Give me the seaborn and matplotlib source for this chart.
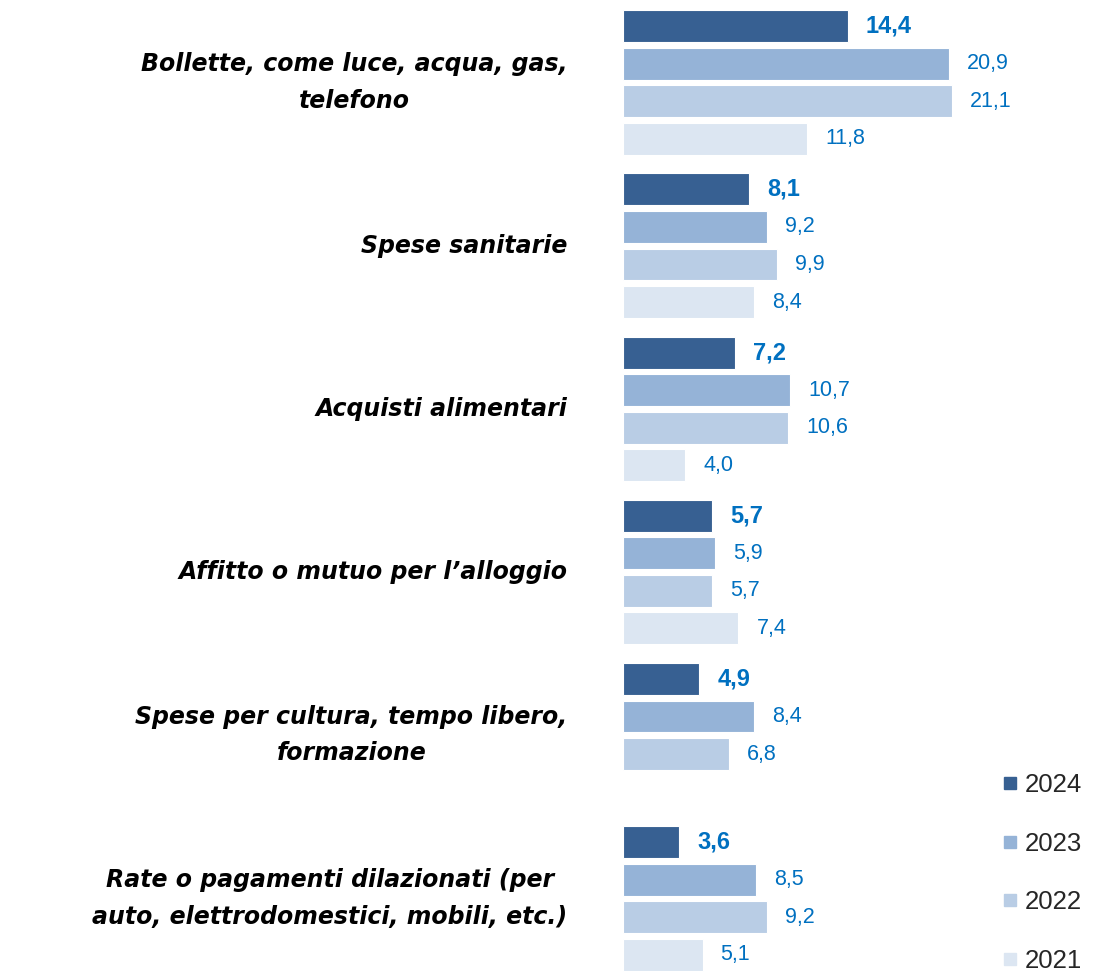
import numpy as np
import pandas as pd
import matplotlib
matplotlib.use("Agg")
import matplotlib.pyplot as plt
from matplotlib.lines import Line2D
import seaborn as sns

# data
categories = [
    "Bollette, come luce, acqua, gas,\ntelefono",
    "Spese sanitarie",
    "Acquisti alimentari",
    "Affitto o mutuo per l\u2019alloggio",
    "Spese per cultura, tempo libero,\nformazione",
    "Rate o pagamenti dilazionati (per\nauto, elettrodomestici, mobili, etc.)",
]
years = ["2024", "2023", "2022", "2021"]
v2024 = [14.4, 8.1, 7.2, 5.7, 4.9, 3.6]
v2023 = [20.9, 9.2, 10.7, 5.9, 8.4, 8.5]
v2022 = [21.1, 9.9, 10.6, 5.7, 6.8, 9.2]
v2021 = [11.8, 8.4, 4.0, 7.4, np.nan, 5.1]

colors = ["#376092", "#95B3D7", "#B9CDE5", "#DCE6F2"]

df = pd.DataFrame({
    "categoria": categories * 4,
    "anno": [y for y in years for _ in categories],
    "valore": v2024 + v2023 + v2022 + v2021,
})

sns.set_style("white")

fig = plt.figure(figsize=(10.94, 9.74), dpi=100)
ax = fig.add_axes([623 / 1094, 0, 471 / 1094, 1])

sns.barplot(data=df, y="categoria", x="valore", hue="anno", hue_order=years,
            order=categories, orient="h", palette=colors, saturation=1,
            width=0.92, gap=0.15, edgecolor="white", linewidth=0.8,
            legend=False, ax=ax)

# value labels, comma decimal
for i, cont in enumerate(ax.containers):
    ax.bar_label(cont, fmt=lambda v: f"{v:.1f}".replace(".", ","),
                 padding=13, color="#0070C0",
                 fontsize=17 if i == 0 else 15.5,
                 fontweight="bold" if i == 0 else "normal",
                 family="Liberation Sans")

ax.set_xlim(0, 471 / 15.6)
ax.set_ylim(5.463, -0.506)
ax.set_xlabel("")
ax.set_ylabel("")
ax.set_xticks([])
ax.tick_params(axis="y", length=0, pad=40)
ax.set_yticklabels(categories, ha="right", va="center", multialignment="center",
                   linespacing=1.65, fontsize=17, family="DejaVu Sans",
                   style="italic", fontweight="bold", color="black")
sns.despine(ax=ax, left=True, bottom=True)

handles = [Line2D([], [], marker="s", linestyle="", color=c, markersize=8)
           for c in colors]
fig.legend(handles, years, loc="upper left", bbox_to_anchor=(986 / 1094, 1 - 760 / 974),
           frameon=False, prop={"family": "Liberation Sans", "size": 18.5},
           handletextpad=0.1, labelspacing=1.35, handlelength=0.9, borderpad=0)

fig.savefig("out.png", dpi=100)
